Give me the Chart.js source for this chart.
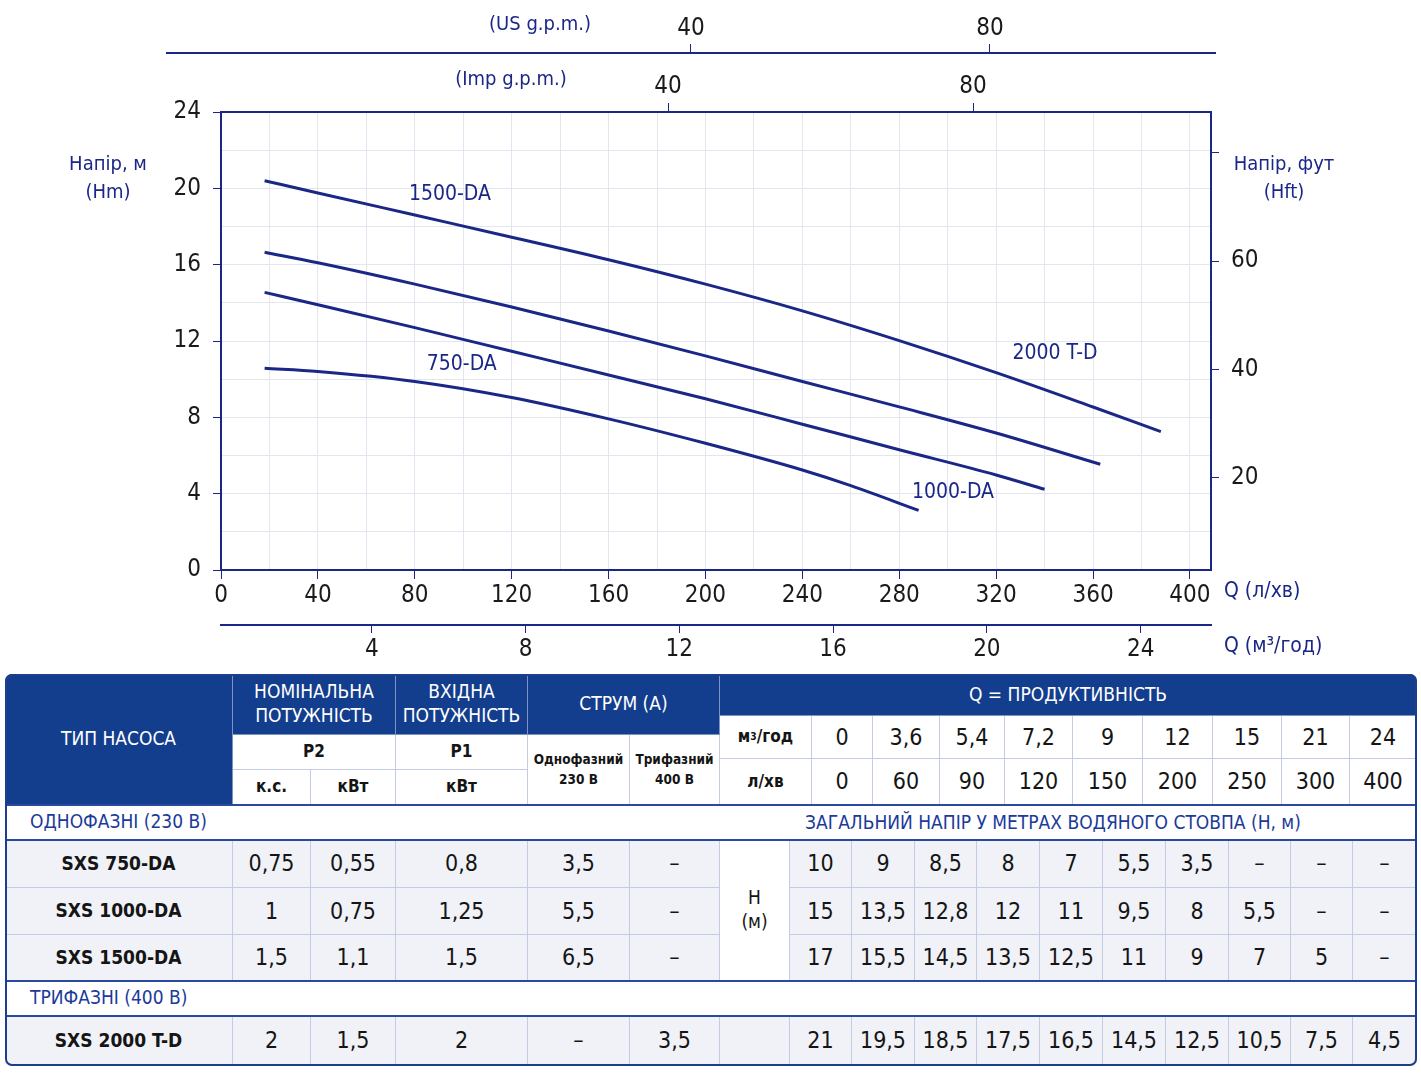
<!DOCTYPE html>
<html>
<head>
<meta charset="utf-8">
<script src="https://cdn.jsdelivr.net/npm/chart.js@4/dist/chart.umd.min.js"></script>
<style>
  html, body { margin: 0; padding: 0; background: #fff; }
  #wrap { position: relative; width: 1421px; height: 1073px; overflow: hidden; }
  #chartBox { position: absolute; left: 0; top: 0; }
  #tbl { position: absolute; left: 5px; top: 674px; width: 1412px; height: 392px;
         border-radius: 7px; overflow: hidden; background: #fff; }
  #tblBorder { position: absolute; left: 5px; top: 674px; width: 1412px; height: 392px;
         border: 2px solid #1d3d8e; border-radius: 7px; box-sizing: border-box; pointer-events: none; }
  .c { position: absolute; display: flex; align-items: center; justify-content: center;
       text-align: center; box-sizing: border-box; border-right: 1px solid #c4cce3;
       border-bottom: 1px solid #c4cce3; font-family: "DejaVu Sans Condensed", "DejaVu Sans", sans-serif;
       color: #151515; line-height: 1.25; }
  .dark { background: #133d8d; color: #fff; font-size: 19px; border-color: rgba(255,255,255,0.45); }
  .lite { background: #fff; font-size: 17px; }
  .bold { font-weight: bold; }
  .small { font-size: 13.5px; font-weight: bold; line-height: 1.45; }
  .num { font-family: "Liberation Sans Narrow", "DejaVu Sans Condensed", sans-serif; font-size: 23px; }
  .body { background: #f0f2f7; }
  .name { font-weight: bold; font-size: 19px; }
  .sec { background: #fff; color: #1c3a9a; font-size: 19px; justify-content: flex-start; padding-left: 25px; border-right: none; }
  .hm { font-size: 19px; }
  .line { position: absolute; height: 2px; background: #2a4a9f; }
  sup { font-size: 60%; }
</style>
</head>
<body>
<div id="wrap">
  <canvas id="chartBox" width="1421" height="670"></canvas>
  <div id="tbl"></div>
  <div id="tblBorder"></div>
</div>
<script>
var NAVY = "#1b2787";
var NARROW = '"Liberation Sans Narrow", "DejaVu Sans Condensed", sans-serif';
var COND = '"DejaVu Sans Condensed", "DejaVu Sans", sans-serif';

// curves: flow in l/min, head in m
var q750 = [18, 40, 80, 120, 160, 200, 240, 260, 288];
var h750 = [10.57, 10.4, 9.88, 9.04, 7.92, 6.64, 5.24, 4.42, 3.12];
var q1000 = [18, 40, 80, 120, 160, 200, 240, 280, 320, 340];
var h1000 = [14.55, 13.9, 12.7, 11.46, 10.22, 8.97, 7.64, 6.3, 4.98, 4.23];
var q1500 = [18, 40, 80, 120, 160, 200, 240, 280, 320, 363];
var h1500 = [16.65, 16.1, 14.98, 13.78, 12.52, 11.22, 9.88, 8.55, 7.18, 5.54];
var q2000 = [18, 40, 80, 120, 160, 200, 240, 280, 320, 360, 388];
var h2000 = [20.4, 19.76, 18.6, 17.44, 16.26, 14.98, 13.58, 12.02, 10.34, 8.54, 7.25];

// tick values of the axes
var xTicks = [0, 20, 40, 60, 80, 100, 120, 140, 160, 180, 200, 220, 240, 260, 280, 300, 320, 340, 360, 380, 400];
var yTicks = [0, 2, 4, 6, 8, 10, 12, 14, 16, 18, 20, 22, 24];
var ftTicks = [20, 40, 60, 80];
var m3Ticks = [4, 8, 12, 16, 20, 24];
var impTicks = [40, 80];
var usTicks = [40, 80];

// curve labels: text, flow, head
var curveLabels = [
  ["1500-DA", 94.5, 19.7],
  ["750-DA", 99.4, 10.74],
  ["2000 T-D", 344.3, 11.32],
  ["1000-DA", 302.2, 4.04]
];

// table
var tQm3 = ["0", "3,6", "5,4", "7,2", "9", "12", "15", "21", "24"];
var tQlmin = ["0", "60", "90", "120", "150", "200", "250", "300", "400"];
var tNames = ["SXS 750-DA", "SXS 1000-DA", "SXS 1500-DA", "SXS 2000 T-D"];
var tHp = ["0,75", "1", "1,5", "2"];
var tKw = ["0,55", "0,75", "1,1", "1,5"];
var tP1 = ["0,8", "1,25", "1,5", "2"];
var tA230 = ["3,5", "5,5", "6,5", "–"];
var tA400 = ["–", "–", "–", "3,5"];
var tH750 = ["10", "9", "8,5", "8", "7", "5,5", "3,5", "–", "–", "–"];
var tH1000 = ["15", "13,5", "12,8", "12", "11", "9,5", "8", "5,5", "–", "–"];
var tH1500 = ["17", "15,5", "14,5", "13,5", "12,5", "11", "9", "7", "5", "–"];
var tH2000 = ["21", "19,5", "18,5", "17,5", "16,5", "14,5", "12,5", "10,5", "7,5", "4,5"];

function pts(qs, hs) {
  return qs.map(function (q, i) { return { x: q, y: hs[i] }; });
}

function fixTicks(list) {
  return function (s) { s.ticks = list.map(function (v) { return { value: v }; }); };
}

var decor = {
  id: "decor",
  afterDraw: function (chart) {
    var c = chart.ctx, a = chart.chartArea;
    var x = chart.scales.x, y = chart.scales.y, us = chart.scales.xUS;
    c.save();
    // US g.p.m. axis line is wider than the plot
    c.strokeStyle = NAVY;
    c.lineWidth = 2;
    c.beginPath();
    c.moveTo(a.left - 55, us.bottom);
    c.lineTo(a.right + 5, us.bottom);
    c.stroke();

    c.fillStyle = NAVY;
    c.textBaseline = "middle";
    c.textAlign = "center";
    c.font = "20px " + COND;
    c.fillText("(US g.p.m.)", 540, 25);
    c.fillText("(Imp g.p.m.)", 511, 80);
    c.fillText("Напір, м", 108, 165);
    c.fillText("(Hm)", 108, 193);
    c.fillText("Напір, фут", 1284, 165);
    c.fillText("(Hft)", 1284, 193);
    c.font = "21px " + COND;
    curveLabels.forEach(function (l) {
      c.fillText(l[0], x.getPixelForValue(l[1]), y.getPixelForValue(l[2]));
    });
    c.textAlign = "left";
    c.fillText("Q (л/хв)", 1224, 592);
    c.fillText("Q (м³/год)", 1224, 647);
    c.restore();
  }
};

var tickFont = { family: NARROW, size: 24 };
var tickCol = "#1a1a1a";

new Chart(document.getElementById("chartBox"), {
  type: "line",
  data: {
    datasets: [
      { label: "750-DA", data: pts(q750, h750) },
      { label: "1000-DA", data: pts(q1000, h1000) },
      { label: "1500-DA", data: pts(q1500, h1500) },
      { label: "2000 T-D", data: pts(q2000, h2000) }
    ]
  },
  options: {
    responsive: false,
    animation: false,
    layout: { padding: 0 },
    elements: {
      point: { radius: 0 },
      line: { borderWidth: 3, borderColor: NAVY, cubicInterpolationMode: "monotone", fill: false }
    },
    plugins: { legend: { display: false }, tooltip: { enabled: false } },
    scales: {
      x: {
        type: "linear", position: "bottom", weight: 0, min: 0, max: 408.7,
        afterBuildTicks: fixTicks(xTicks),
        afterFit: function (s) { s.height = 55; },
        ticks: { autoSkip: false, maxRotation: 0, padding: 2, color: tickCol, font: tickFont,
                 callback: function (v) { return v % 40 === 0 ? v : ""; } },
        grid: { color: "#e3e6ef", lineWidth: 1, tickLength: 9,
                tickColor: function (ctx) { return ctx.tick && ctx.tick.value % 40 === 0 ? NAVY : "rgba(0,0,0,0)"; } },
        border: { display: true, color: NAVY, width: 2 }
      },
      xM3: {
        type: "linear", position: "bottom", weight: 1, min: 0.078, max: 25.83,
        afterBuildTicks: fixTicks(m3Ticks),
        afterFit: function (s) { s.height = 45; },
        ticks: { autoSkip: false, maxRotation: 0, padding: 2, color: tickCol, font: tickFont },
        grid: { drawOnChartArea: false, color: NAVY, tickLength: 8 },
        border: { display: true, color: NAVY, width: 2 }
      },
      xImp: {
        type: "linear", position: "top", weight: 0, min: -18.62, max: 111.2,
        afterBuildTicks: fixTicks(impTicks),
        afterFit: function (s) { s.height = 59; },
        ticks: { autoSkip: false, maxRotation: 0, padding: 2, color: tickCol, font: tickFont },
        grid: { drawOnChartArea: false, color: NAVY, tickLength: 9 },
        border: { display: true, color: NAVY, width: 2 }
      },
      xUS: {
        type: "linear", position: "top", weight: 1, min: -22.88, max: 109.57,
        afterBuildTicks: fixTicks(usTicks),
        afterFit: function (s) { s.height = 53; },
        ticks: { autoSkip: false, maxRotation: 0, padding: 1, color: tickCol, font: tickFont },
        grid: { drawOnChartArea: false, color: NAVY, tickLength: 9 },
        border: { display: false }
      },
      y: {
        type: "linear", position: "left", min: 0, max: 24,
        afterBuildTicks: fixTicks(yTicks),
        afterFit: function (s) { s.width = 221; },
        ticks: { autoSkip: false, padding: 12, color: tickCol, font: tickFont,
                 callback: function (v) { return v % 4 === 0 ? v : ""; } },
        grid: { color: "#e3e6ef", lineWidth: 1, tickLength: 8,
                tickColor: function (ctx) { return ctx.tick && ctx.tick.value % 4 === 0 ? NAVY : "rgba(0,0,0,0)"; } },
        border: { display: true, color: NAVY, width: 2 }
      },
      y2: {
        type: "linear", position: "right", min: 3, max: 87.5,
        afterBuildTicks: fixTicks(ftTicks),
        afterFit: function (s) { s.width = 210; },
        ticks: { autoSkip: false, padding: 12, color: tickCol, font: tickFont,
                 callback: function (v) { return v === 80 ? "" : v; } },
        grid: { drawOnChartArea: false, color: NAVY, tickLength: 8 },
        border: { display: true, color: NAVY, width: 2 }
      }
    }
  },
  plugins: [decor]
});

// ---- table ----
var tbl = document.getElementById("tbl");
var OX = 5, OY = 674;

function cell(x1, y1, x2, y2, html, cls) {
  var d = document.createElement("div");
  d.className = "c " + (cls || "");
  d.style.left = (x1 - OX) + "px";
  d.style.top = (y1 - OY) + "px";
  d.style.width = (x2 - x1) + "px";
  d.style.height = (y2 - y1) + "px";
  d.innerHTML = html;
  tbl.appendChild(d);
  return d;
}

function hline(y) {
  var d = document.createElement("div");
  d.className = "line";
  d.style.left = "0px";
  d.style.width = "1412px";
  d.style.top = (y - 1 - OY) + "px";
  tbl.appendChild(d);
}

// header, dark part
cell(5, 674, 233, 805, "ТИП НАСОСА", "dark");
cell(233, 674, 396, 735, "НОМІНАЛЬНА<br>ПОТУЖНІСТЬ", "dark");
cell(396, 674, 528, 735, "ВХІДНА<br>ПОТУЖНІСТЬ", "dark");
cell(528, 674, 720, 735, "СТРУМ (А)", "dark");
cell(720, 674, 1417, 716, "Q = ПРОДУКТИВНІСТЬ", "dark");

// header, light part
cell(233, 735, 396, 770, "P2", "lite bold");
cell(396, 735, 528, 770, "P1", "lite bold");
cell(233, 770, 311, 805, "к.с.", "lite bold");
cell(311, 770, 396, 805, "кВт", "lite bold");
cell(396, 770, 528, 805, "кВт", "lite bold");
cell(528, 735, 630, 805, "Однофазний<br>230 В", "lite small");
cell(630, 735, 720, 805, "Трифазний<br>400 В", "lite small");
cell(720, 716, 812, 759, "м<sup>3</sup>/год", "lite bold");
cell(720, 759, 812, 805, "л/хв", "lite bold");

var qCols = [812, 873, 940, 1005, 1073, 1143, 1213, 1282, 1350, 1417];
tQm3.forEach(function (v, i) { cell(qCols[i], 716, qCols[i + 1], 759, v, "lite num"); });
tQlmin.forEach(function (v, i) { cell(qCols[i], 759, qCols[i + 1], 805, v, "lite num"); });

// section rows
cell(5, 805, 1417, 840, "ОДНОФАЗНІ (230 В)", "sec");
var sub = cell(753, 805, 1353, 840, "ЗАГАЛЬНИЙ НАПІР У МЕТРАХ ВОДЯНОГО СТОВПА (Н, м)", "sec");
sub.style.justifyContent = "center";
sub.style.paddingLeft = "0";
sub.style.background = "transparent";
sub.style.borderBottom = "none";
cell(5, 981, 1417, 1016, "ТРИФАЗНІ (400 В)", "sec");

// body rows
var rowY = [[840, 888], [888, 935], [935, 981], [1016, 1066]];
var hCols = [790, 852, 915, 977, 1040, 1103, 1166, 1229, 1291, 1353, 1417];
var tHeads = [tH750, tH1000, tH1500, tH2000];
rowY.forEach(function (r, i) {
  cell(5, r[0], 233, r[1], tNames[i], "body name");
  cell(233, r[0], 311, r[1], tHp[i], "body num");
  cell(311, r[0], 396, r[1], tKw[i], "body num");
  cell(396, r[0], 528, r[1], tP1[i], "body num");
  cell(528, r[0], 630, r[1], tA230[i], "body num");
  cell(630, r[0], 720, r[1], tA400[i], "body num");
  tHeads[i].forEach(function (v, j) { cell(hCols[j], r[0], hCols[j + 1], r[1], v, "body num"); });
});
cell(720, 840, 790, 981, "Н<br>(м)", "lite hm");
cell(720, 1016, 790, 1066, "", "body");

[805, 840, 981, 1016].forEach(hline);
</script>
</body>
</html>
